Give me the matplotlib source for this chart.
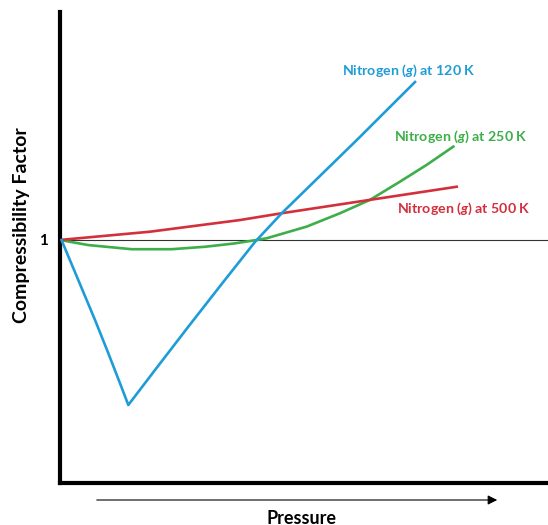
import matplotlib.pyplot as plt
from matplotlib.patches import FancyArrowPatch

plt.rcParams['font.family'] = ['Lato', 'DejaVu Sans']
plt.rcParams['mathtext.fontset'] = 'custom'
plt.rcParams['mathtext.it'] = 'Lato:italic:bold'
plt.rcParams['mathtext.rm'] = 'Lato:bold'

# (pressure in arbitrary units, Z = PV/nRT)
p_120 = [0.03, 0.375, 0.717, 0.990, 1.230, 1.400, 1.947, 2.629, 3.314, 3.996, 4.549, 6.086, 7.275]
z_120 = [1.0, 0.835, 0.671, 0.534, 0.410, 0.321, 0.465, 0.643, 0.819, 0.992, 1.111, 1.412, 1.650]

p_250 = [0.0, 0.580, 1.469, 2.289, 2.971, 3.586, 4.031, 4.236, 5.055, 5.738, 6.352, 6.967, 7.514, 8.059]
z_250 = [1.0, 0.979, 0.962, 0.962, 0.972, 0.986, 1.0, 1.007, 1.055, 1.110, 1.165, 1.240, 1.309, 1.384]

p_500 = [0.0, 1.844, 3.689, 4.543, 6.352, 8.129]
z_500 = [1.0, 1.034, 1.082, 1.110, 1.165, 1.219]

blue = '#1E9CD7'
green = '#3DAE49'
red = '#D32F3C'

fig = plt.figure(figsize=(5.48, 5.25), dpi=100)
ax = fig.add_axes([60/548, 42/525, 488/548, 471/525])

ax.axhline(1.0, color='#333333', lw=0.8, zorder=1)
ax.plot(p_120, z_120, color=blue, lw=1.9, zorder=3, solid_joinstyle='round')
ax.plot(p_250, z_250, color=green, lw=1.9, zorder=2, solid_joinstyle='round')
ax.plot(p_500, z_500, color=red, lw=1.9, zorder=2, solid_joinstyle='round')

lab = dict(fontsize=10.2, fontweight='bold', ha='center', va='center')
ax.text(7.15, 1.697, 'Nitrogen ($g$) at 120 K', color=blue, **lab)
ax.text(8.21, 1.425, 'Nitrogen ($g$) at 250 K', color=green, **lab)
ax.text(8.28, 1.128, 'Nitrogen ($g$) at 500 K', color=red, **lab)

ax.set_xlim(0, 10)
ax.set_ylim(0, 1.938)
ax.set_xticks([])
ax.set_yticks([1.0])
ax.set_yticklabels(['1'], fontweight='bold', fontsize=11)
ax.tick_params(axis='y', length=0, pad=9)
for s in ['top', 'right']:
    ax.spines[s].set_visible(False)
for s in ['left', 'bottom']:
    ax.spines[s].set_linewidth(3)
    ax.spines[s].set_capstyle('projecting')

fig.text(22/548, 1 - 225/525, 'Compressibility Factor', rotation=90,
         fontsize=14, fontweight='bold', ha='center', va='center')
fig.text(301/548, 1 - 518/525, 'Pressure', fontsize=13, fontweight='bold',
         ha='center', va='center')
fig.patches.append(FancyArrowPatch(
    (94/548, 1 - 500/525), (500/548, 1 - 500/525), transform=fig.transFigure,
    arrowstyle='-|>', mutation_scale=14, lw=0.8, color='black'))

fig.savefig('out.png', dpi=100)
